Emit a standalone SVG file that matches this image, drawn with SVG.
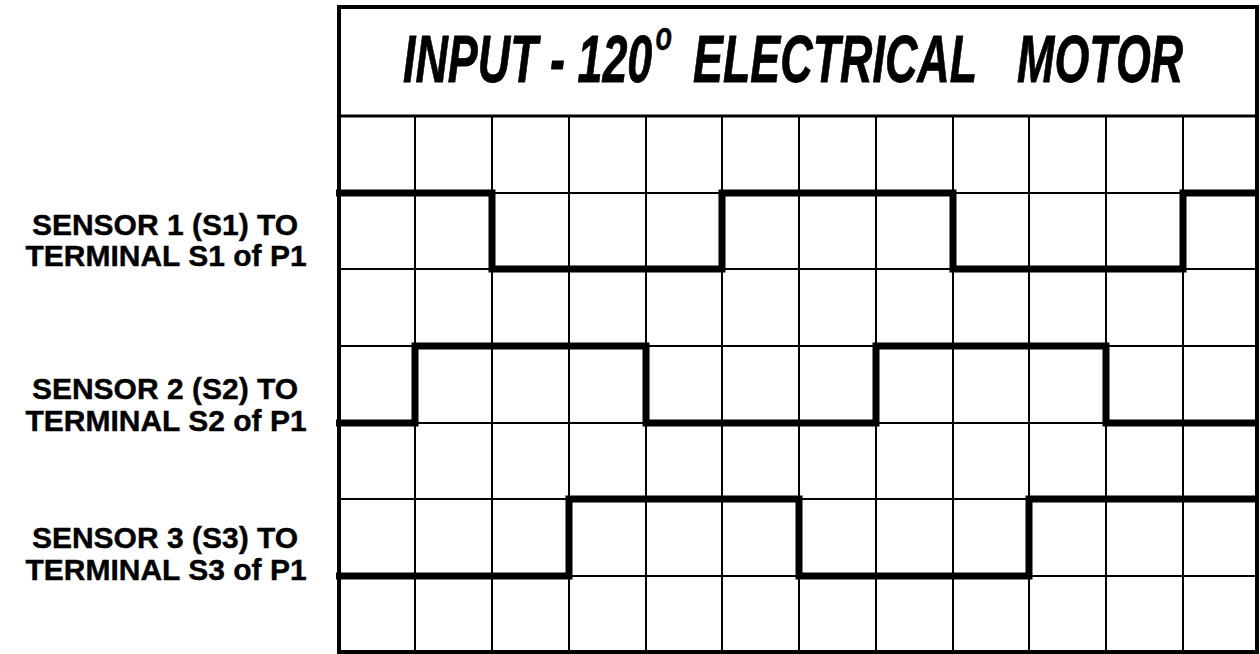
<svg xmlns="http://www.w3.org/2000/svg" width="1260" height="654" viewBox="0 0 1260 654">
  <style>
    .grid { stroke: #000; stroke-width: 2; fill: none; }
    .frame { stroke: #000; stroke-width: 4; fill: none; }
    .sig { stroke: #000; stroke-width: 7; fill: none; stroke-linejoin: miter; stroke-linecap: butt; }
    .title { font-family: "Liberation Sans", Arial, sans-serif; font-weight: bold; font-style: italic; font-size: 66px; fill: #000; stroke: #000; stroke-width: 0.8; }
    .label { font-family: "Liberation Sans", Arial, sans-serif; font-weight: bold; font-size: 30px; fill: #000; text-anchor: middle; stroke: #000; stroke-width: 0.4; }
  </style>
  <rect width="1260" height="654" fill="#fff"/>

  <g id="grid">
    <path class="grid" d="M415 116V652M492 116V652M569 116V652M646 116V652M722 116V652M799 116V652M876 116V652M953 116V652M1029 116V652M1106 116V652M1183 116V652"/>
    <path class="grid" d="M339 193H1257M339 269H1257M339 346H1257M339 423H1257M339 499H1257M339 576H1257"/>
    <line x1="339" y1="116" x2="1257" y2="116" stroke="#000" stroke-width="3"/>
    <rect class="frame" x="339" y="7" width="918" height="645"/>
  </g>

  <g id="title">
    <text class="title" transform="scale(0.68 1)"><tspan x="592.6" y="82">INPUT - 120</tspan><tspan x="964" y="50" style="font-size:40px;stroke-width:0.3">o</tspan><tspan x="1019.1" y="82">ELECTRICAL</tspan><tspan x="1495.6" y="82">MOTOR</tspan></text>
  </g>

  <g id="label-s1">
    <text class="label" x="165" y="235">SENSOR 1 (S1) TO</text>
    <text class="label" x="166" y="266">TERMINAL S1 of P1</text>
  </g>
  <g id="label-s2">
    <text class="label" x="165" y="399">SENSOR 2 (S2) TO</text>
    <text class="label" x="166" y="431">TERMINAL S2 of P1</text>
  </g>
  <g id="label-s3">
    <text class="label" x="165" y="548">SENSOR 3 (S3) TO</text>
    <text class="label" x="166" y="580">TERMINAL S3 of P1</text>
  </g>

  <g id="connectors">
    <polyline id="signal-s1" class="sig" points="336,193 492,193 492,269 722,269 722,193 953,193 953,269 1183,269 1183,193 1259,193"/>
    <polyline id="signal-s2" class="sig" points="336,423 415,423 415,346 646,346 646,423 876,423 876,346 1106,346 1106,423 1259,423"/>
    <polyline id="signal-s3" class="sig" points="336,576 569,576 569,499 799,499 799,576 1029,576 1029,499 1259,499"/>
  </g>
</svg>
